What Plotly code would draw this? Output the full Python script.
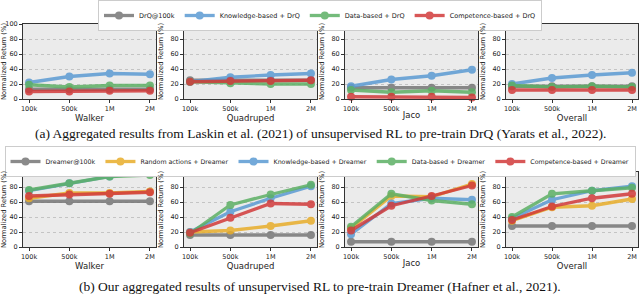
import plotly.graph_objects as go

steps = ["100k", "500k", "1M", "2M"]
envs = ["Walker", "Quadruped", "Jaco", "Overall"]

# Top row: DrQ (Laskin et al.)
drq_names = ["DrQ@100k", "Knowledge-based + DrQ", "Data-based + DrQ", "Competence-based + DrQ"]
drq_baseline = {"Walker": [13, 13, 13, 13], "Quadruped": [25, 25, 25, 25],
                "Jaco": [15, 15, 15, 15], "Overall": [17, 17, 17, 17]}
drq_knowledge = {"Walker": [22, 30, 34, 33], "Quadruped": [23, 29, 32, 34],
                 "Jaco": [17, 26, 31, 39], "Overall": [20, 28, 32, 35]}
drq_data = {"Walker": [19, 16, 18, 18], "Quadruped": [23, 21, 20, 20],
            "Jaco": [12, 9, 11, 9], "Overall": [18, 16, 17, 16]}
drq_competence = {"Walker": [10, 10, 11, 11], "Quadruped": [23, 24, 24, 25],
                  "Jaco": [3, 3, 3, 2], "Overall": [12, 12, 12, 12]}

# Bottom row: Dreamer (ours)
dr_names = ["Dreamer@100k", "Random actions + Dreamer", "Knowledge-based + Dreamer",
            "Data-based + Dreamer", "Competence-based + Dreamer"]
dr_baseline = {"Walker": [61, 61, 61, 61], "Quadruped": [16, 16, 16, 16],
               "Jaco": [7, 7, 7, 7], "Overall": [28, 28, 28, 28]}
dr_random = {"Walker": [65, 72, 72, 74], "Quadruped": [20, 22, 28, 35],
             "Jaco": [25, 68, 67, 84], "Overall": [35, 53, 55, 64]}
dr_knowledge = {"Walker": [75, 85, 94, 99], "Quadruped": [20, 47, 65, 81],
                "Jaco": [17, 58, 65, 63], "Overall": [38, 63, 75, 81]}
dr_data = {"Walker": [76, 85, 94, 96], "Quadruped": [18, 56, 70, 83],
           "Jaco": [27, 71, 62, 57], "Overall": [40, 71, 75, 79]}
dr_competence = {"Walker": [68, 70, 71, 73], "Quadruped": [19, 39, 58, 57],
                 "Jaco": [22, 55, 68, 82], "Overall": [36, 54, 65, 71]}

GRAY, YELLOW, BLUE, GREEN, RED = "#767676", "#E8AD2A", "#5B9BD3", "#5CB064", "#D23A3A"

W, H = 640, 295
cols_px = [(23, 156), (184, 317), (345, 478), (506, 638)]
rows_px = [(24, 99), (172, 247)]

fig = go.Figure()
FONT = "DejaVu Sans"
TXT = "#222222"

def add_series(ax_i, y, name, color, show, legend):
    sfx = "" if ax_i == 1 else str(ax_i)
    fig.add_trace(go.Scatter(
        x=steps, y=y, name=name, mode="lines+markers",
        line=dict(color=color, width=3.3),
        marker=dict(color=color, size=8, line=dict(width=0)),
        opacity=0.85, xaxis="x" + sfx, yaxis="y" + sfx, cliponaxis=False,
        showlegend=show, legend=legend,
    ))

layout = {}
for r in range(2):
    for c, env in enumerate(envs):
        i = r * 4 + c + 1
        sfx = "" if i == 1 else str(i)
        x0, x1 = cols_px[c]
        y0, y1 = rows_px[r]
        layout["xaxis" + sfx] = dict(
            domain=[x0 / W, x1 / W], anchor="y" + sfx, type="category",
            range=[-0.15, 3.15], showline=True, linecolor="#333333", linewidth=1,
            mirror=True, ticks="outside", ticklen=3, tickcolor="#333333",
            showgrid=False, zeroline=False, automargin=False,
            tickfont=dict(family=FONT, size=6.5, color=TXT),
            title=dict(text=env, font=dict(family=FONT, size=8.5, color=TXT), standoff=0),
        )
        layout["yaxis" + sfx] = dict(
            domain=[1 - y1 / H, 1 - y0 / H], anchor="x" + sfx,
            range=[0, 100], tickvals=[0, 20, 40, 60, 80, 100],
            showline=True, linecolor="#333333", linewidth=1, mirror=True,
            ticks="outside", ticklen=3, tickcolor="#333333",
            showgrid=True, gridcolor="#c4c4c4", griddash="dot", gridwidth=0.8,
            zeroline=False, automargin=False,
            tickfont=dict(family=FONT, size=6.5, color=TXT),
            title=dict(text="Normalized Return (%)", font=dict(family=FONT, size=6.8, color=TXT), standoff=1),
        )
        if r == 0:
            series = [(drq_baseline, GRAY), (drq_knowledge, BLUE), (drq_data, GREEN), (drq_competence, RED)]
            for (d, col), nm in zip(series, drq_names):
                add_series(i, d[env], nm, col, c == 0, "legend")
        else:
            series = [(dr_baseline, GRAY), (dr_random, YELLOW), (dr_knowledge, BLUE),
                      (dr_data, GREEN), (dr_competence, RED)]
            for (d, col), nm in zip(series, dr_names):
                add_series(i, d[env], nm, col, c == 0, "legend2")

fig.update_layout(**layout)

for r in range(2):
    for c in range(4):
        i = r * 4 + c + 1
        sfx = "" if i == 1 else str(i)
        fig.add_shape(type="rect", xref="x" + sfx + " domain", yref="y" + sfx + " domain",
                      x0=0, x1=1, y0=0, y1=1, fillcolor="#EBEBEB", line=dict(width=0),
                      layer="below")

fig.update_layout(
    width=W, height=H, margin=dict(l=0, r=0, t=0, b=0, autoexpand=False),
    paper_bgcolor="white", plot_bgcolor="rgba(0,0,0,0)",
    legend=dict(orientation="h", x=0.5, xanchor="center", y=1.0, yanchor="top",
                font=dict(family=FONT, size=6.5, color=TXT),
                bordercolor="#cccccc", borderwidth=1, itemwidth=30, tracegroupgap=0),
    legend2=dict(orientation="h", x=0.5, xanchor="center", y=1 - 146 / H, yanchor="top",
                 font=dict(family=FONT, size=6.3, color=TXT),
                 bordercolor="#cccccc", borderwidth=1, itemwidth=30, tracegroupgap=0),
    annotations=[
        dict(text="(a) Aggregated results from Laskin et al. (2021) of unsupervised RL to pre-train DrQ (Yarats et al., 2022).",
             x=0.5, y=1 - 134 / H, xref="paper", yref="paper", showarrow=False,
             xanchor="center", yanchor="middle",
             font=dict(family="Liberation Serif", size=13.5, color="#111111")),
        dict(text="(b) Our aggregated results of unsupervised RL to pre-train Dreamer (Hafner et al., 2021).",
             x=0.5, y=1 - 286 / H, xref="paper", yref="paper", showarrow=False,
             xanchor="center", yanchor="middle",
             font=dict(family="Liberation Serif", size=13.5, color="#111111")),
    ],
)

fig.write_html("out.html", config={"displayModeBar": False},
               post_script="document.body.style.margin='0';document.body.style.padding='0';"
                           "document.body.style.overflow='hidden';")
